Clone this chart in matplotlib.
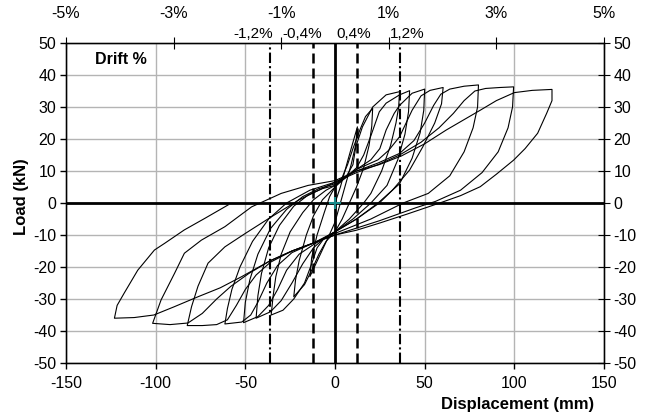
import numpy as np
import matplotlib.pyplot as plt

plt.rcParams['font.family'] = ['Liberation Sans', 'DejaVu Sans']
plt.rcParams['axes.unicode_minus'] = False

# axis settings
x_ticks = [-150, -100, -50, 0, 50, 100, 150]
y_ticks = [-50, -40, -30, -20, -10, 0, 10, 20, 30, 40, 50]
drift_ticks = [-5, -3, -1, 1, 3, 5]
drift_labels = ['-5%', '-3%', '-1%', '1%', '3%', '5%']
ref_disp = [-36, -12, 12, 36]
ref_labels = ['-1,2%', '-0,4%', '0,4%', '1,2%']
ref_label_x = [-45.5, -18.5, 10.5, 40]

# hysteresis cycles (displacement mm, load kN)
disp_c1 = [0, 3, 6, 9, 12.5, 11.5, 9, 6, 3, 0, -4, -9, -14, -13, -10, -6, -3, 0]
load_c1 = [0, 5, 11, 17, 23.8, 18, 12, 6, 0, -6, -11, -17, -23, -17, -10, -3, 2, 5]

disp_c2 = [0, 4, 7, 10, 14, 17, 21, 20.5, 19, 16, 12, 8, 4, 0, -5, -9, -13, -17, -23,
           -22, -20, -16, -12, -7, 0]
load_c2 = [5, 8, 12, 17, 23, 27, 29.6, 24, 18, 11, 5, 0, -5, -9, -12, -16, -21, -25.5,
           -29.3, -24, -18, -10, -4, 1, 5]

disp_c3 = [0, 6, 10, 11.6, 15.3, 21, 28.5, 36, 35.5, 34, 31, 26, 20, 16, 8, 0, -6, -10,
           -13, -17, -23, -29, -35.6, -34.5, -33, -30, -25, -18, -12, -5, 0]
load_c3 = [5, 8, 12, 17.6, 23.8, 30, 33.8, 34.8, 30, 25, 18, 10, 3, 0, -5, -9, -11, -14,
           -19, -25, -30, -33.5, -35, -29, -23, -16, -9, -3, 1, 4, 5.5]

disp_c4 = [0, 6, 12, 16, 20, 24.7, 28.5, 36, 41.6, 41, 39, 35, 29, 20, 10, 0, -6, -12,
           -18, -24, -30, -36, -44, -43, -41, -37, -31, -23, -15, -7, 0]
load_c4 = [5.5, 8, 11, 15, 21, 28.5, 31.2, 33.8, 35.1, 28.5, 21.5, 13.5, 5.5, 0, -5, -9,
           -11, -14, -19, -25, -30.5, -34, -36, -29, -22, -14, -7, -1, 2.5, 4.5, 5.5]

disp_c5 = [0, 12, 20, 25, 28.5, 33, 36, 43, 50, 49.5, 47.5, 43, 36, 24, 12, 0, -12, -20,
           -27, -32, -37, -43, -51, -50, -47.5, -43, -36, -27, -18, -9, 0]
load_c5 = [5.5, 10.5, 13.5, 17, 22.8, 28, 30.5, 34.3, 35.6, 29, 22, 14, 6, 0, -5, -9,
           -13, -16, -21, -27, -32, -35.5, -37.4, -31, -24, -16, -8, -2, 2, 4.5, 6]

disp_c6 = [0, 12, 24, 30, 36, 43, 48, 53, 60.3, 59.4, 55.6, 49, 41.6, 32, 24.7, 12, 0,
           -12, -24, -32, -38, -43, -47, -52, -61.4, -60, -57.5, -53, -46, -37, -27, -14, 0]
load_c6 = [6, 10.5, 13.5, 16.5, 20.7, 29, 33.5, 35.2, 36.1, 31, 25, 17.6, 10.3, 4, 0, -5,
           -9, -12.5, -15.5, -19.5, -25, -31, -35, -37.2, -37.8, -33, -27, -20, -12, -5, 0,
           4, 6.5]

disp_c7 = [0, 12, 24, 36, 44, 50, 55, 59, 64, 72, 80, 79.5, 77, 72, 64, 52, 38, 20, 0,
           -12, -24, -36, -44, -50, -55, -60, -66, -74, -82.4, -80, -76.4, -70.8, -61.4,
           -50, -36, -20, 0]
load_c7 = [6.5, 10, 12.5, 15.5, 19.5, 25, 30.5, 34, 35.6, 36.5, 36.9, 30, 23.5, 16, 8.5,
           3, 0, -5, -9.5, -12.5, -15, -18.5, -22.5, -27, -32, -36.5, -38, -38.3, -38.3,
           -32.4, -26, -18.8, -13.7, -9.5, -4.5, 1, 6.5]

disp_c8 = [0, 12, 24, 36, 48, 58, 66, 72, 78, 84, 92, 99.6, 99, 96.5, 91, 82, 70, 56, 45,
           25, 0, -12, -24, -36, -48, -58, -66, -74, -82, -92, -101.7, -97, -89.5, -84,
           -74.5, -61.4, -46.5, -30, -15, 0]
load_c8 = [6.5, 9.5, 12, 15, 19, 23.5, 28, 32, 35, 35.8, 36.1, 36.3, 30, 23.5, 16, 9.5, 4,
           0.5, -1.5, -5.5, -10, -12.5, -15, -18, -22, -26, -30, -34.5, -37.5, -38, -37.6,
           -30.3, -22, -15.7, -11.6, -7.4, -1.2, 3, 5.5, 7]

disp_c9 = [0, 12, 24.7, 37, 50, 62, 81, 90, 100, 110, 121, 121, 118, 113, 106, 99.6, 90,
           81, 70, 58.4, 40, 24.7, 12, 0, -12, -24, -36, -52, -64, -76.4, -90, -101, -112,
           -123, -121.5, -117.6, -110, -100.7, -95, -84, -72.6, -59.6]
load_c9 = [7, 10, 12, 14.7, 18.5, 22.8, 29, 32, 34.5, 35.2, 35.5, 32, 28, 21.8, 17, 13.4,
           9, 5.1, 2.3, 0, -3.5, -6.3, -8.5, -10, -12.5, -15, -18, -23, -26.5, -29.3, -32.5,
           -35, -35.8, -36, -32, -28.2, -21, -14.7, -12.6, -8.4, -4.8, -0.6]

cycles = [(disp_c1, load_c1), (disp_c2, load_c2), (disp_c3, load_c3),
          (disp_c4, load_c4), (disp_c5, load_c5), (disp_c6, load_c6),
          (disp_c7, load_c7), (disp_c8, load_c8), (disp_c9, load_c9)]

fig = plt.figure(figsize=(6.51, 4.16), dpi=100)
ax = fig.add_axes([0.1014, 0.1274, 0.8264, 0.7692])

ax.set_xlim(-150, 150)
ax.set_ylim(-50, 50)
ax.set_xticks(x_ticks)
ax.set_yticks(y_ticks)
ax.grid(True, color='#b4b4b4', lw=1)
ax.set_axisbelow(True)

# reference drift lines
for d in ref_disp:
    if abs(d) == 12:
        ax.axvline(d, color='black', lw=1.8, ls=(0, (4, 2)), zorder=2)
    else:
        ax.axvline(d, color='black', lw=1.5, ls=(0, (5, 1.5, 1, 1.5)), zorder=2)

ax.axhline(0, color='black', lw=2, zorder=2)
ax.axvline(0, color='black', lw=2, zorder=2)

for dx, ly in cycles:
    ax.plot(dx, ly, color='black', lw=0.8, zorder=3)

ax.plot([0], [0], marker='+', color='#1a8a8a', ms=9, mew=1.5, zorder=4)

ax.tick_params(axis='both', labelsize=11.5, color='black', length=4, width=1)
ax.tick_params(axis='x', pad=5)
ax.tick_params(axis='y', pad=3)
for s in ax.spines.values():
    s.set_linewidth(1)

# right axis copy
ax_r = ax.twinx()
ax_r.set_ylim(-50, 50)
ax_r.set_yticks(y_ticks)
ax_r.tick_params(axis='y', direction='inout', length=8, labelsize=11.5, pad=3)

# drift axis on top
ax_t = ax.twiny()
ax_t.set_xlim(-5, 5)
ax_t.set_xticks(drift_ticks)
ax_t.set_xticklabels(drift_labels)
ax_t.tick_params(axis='x', direction='inout', length=8, labelsize=11.5, pad=12)

for xl, lab in zip(ref_label_x, ref_labels):
    ax.text(xl, 50.6, lab, ha='center', va='bottom', fontsize=11, clip_on=False)

ax.text(-134, 45, 'Drift %', fontsize=11.5, fontweight='bold', va='center', ha='left')

fig.text(594 / 651, 1 - 405 / 416, 'Displacement (mm)', ha='right', va='center',
         fontsize=12, fontweight='bold')
fig.text(22 / 651, 1 - 197 / 416, 'Load (kN)', ha='center', va='center', rotation=90,
         fontsize=12, fontweight='bold')

fig.savefig('out.png', dpi=100)
